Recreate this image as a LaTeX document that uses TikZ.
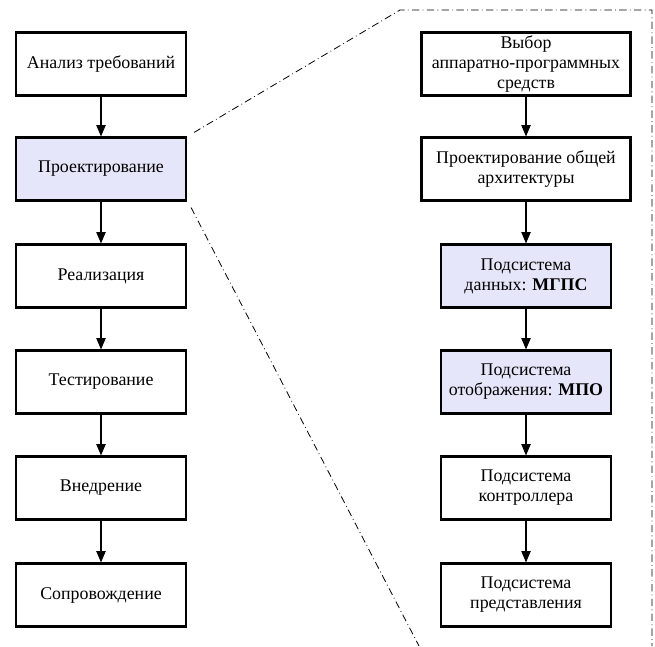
\documentclass[tikz,border=0pt]{standalone}
\usepackage{fontspec}
\setmainfont{Liberation Serif}
\usetikzlibrary{arrows.meta,calc}
\definecolor{lav}{RGB}{230,230,250}
\begin{document}
\begin{tikzpicture}[x=0.75pt,y=-0.75pt,
  box/.style={draw,line width=1.6pt,minimum width=127.5pt,minimum height=47.25pt,
    align=center,font=\fontsize{13.4}{15}\selectfont,inner sep=2pt},
  wide/.style={box,minimum width=156.75pt},
  hl/.style={fill=lav},
  arr/.style={-{Triangle[length=8.5pt,width=7pt]},line width=0.8pt},
  encl/.style={line width=0.6pt,dash pattern=on 5.5pt off 2.5pt on 0.6pt off 2.5pt}]
\useasboundingbox (0,0) rectangle (655,646);
% left column
\node[box] (a1) at (101,64) {Анализ требований};
\node[box,hl] (a2) at (101,169) {Проектирование};
\node[box] (a3) at (101,276) {Реализация};
\node[box] (a4) at (101,382) {Тестирование};
\node[box] (a5) at (101,488) {Внедрение};
\node[box] (a6) at (101,595) {Сопровождение};
\foreach \i/\j in {a1/a2,a2/a3,a3/a4,a4/a5,a5/a6} \draw[arr] (\i) -- (\j);
% right column
\node[wide] (b1) at (526,64) {Выбор\\аппаратно-программных\\средств};
\node[wide] (b2) at (526,169) {Проектирование общей\\архитектуры};
\node[box,hl] (b3) at (526,276) {Подсистема\\данных: \textbf{МГПС}};
\node[box,hl] (b4) at (526,382) {Подсистема\\отображения: \textbf{МПО}};
\node[box] (b5) at (526,488) {Подсистема\\контроллера};
\node[box] (b6) at (526,595) {Подсистема\\представления};
\foreach \i/\j in {b1/b2,b2/b3,b3/b4,b4/b5,b5/b6} \draw[arr] (\i) -- (\j);
% enclosure
\coordinate (t1) at (400,10);
\coordinate (t2) at (652,10);
\coordinate (t3) at (652,646);
\coordinate (t4) at (419,646);
\draw[encl] ($(a2.north east)+(7,-4)$) -- (t1) -- (t2) -- (t3);
\draw[encl] ($(a2.south east)+(4,6)$) -- (t4);
\end{tikzpicture}
\end{document}
